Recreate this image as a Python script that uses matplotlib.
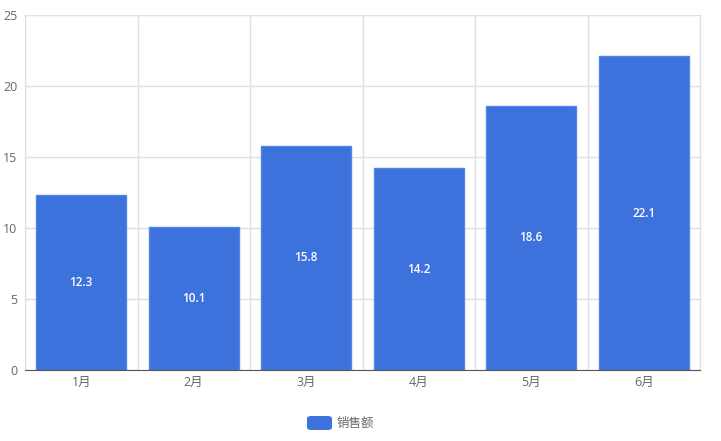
import matplotlib.pyplot as plt
from matplotlib.patches import FancyBboxPatch

plt.rcParams['font.family'] = ['Open Sans', 'Noto Sans CJK SC', 'DejaVu Sans']

# ---- data ----
months = ['1月', '2月', '3月', '4月', '5月', '6月']
sales = [12.3, 10.1, 15.8, 14.2, 18.6, 22.1]
series_name = '销售额'
y_ticks = [0, 5, 10, 15, 20, 25]

bar_color = '#3d71db'
edge_color = '#5385e8'
grid_color = '#e0e0e4'
text_color = '#666666'

fig = plt.figure(figsize=(7.21, 4.41), dpi=100)
ax = fig.add_axes([25 / 721, 71 / 441, 675 / 721, 355 / 441])

x = list(range(len(months)))
bars = ax.bar(x, sales, width=0.8, color=bar_color, edgecolor=edge_color,
              linewidth=1, zorder=3)

# value labels in middle of each bar
for rect, v in zip(bars, sales):
    ax.text(rect.get_x() + rect.get_width() / 2, v / 2, f'{v}',
            ha='center', va='center', color='white', fontsize=8.5,
            fontweight='semibold', zorder=4)

ax.set_xlim(-0.5, len(months) - 0.5)
ax.set_ylim(0, 25)
ax.set_yticks(y_ticks)
ax.set_xticks(x)
ax.set_xticklabels(months)

# vertical grid at category boundaries
ax.set_xticks([i - 0.5 for i in range(len(months) + 1)], minor=True)
ax.grid(axis='x', which='minor', color=grid_color, linewidth=1, zorder=0)
ax.grid(axis='y', which='major', color=grid_color, linewidth=1, zorder=0)

ax.tick_params(axis='both', which='both', length=0, colors=text_color,
               labelsize=9)
ax.tick_params(axis='x', pad=4)
ax.tick_params(axis='y', pad=5.5)

for side in ['top', 'right', 'left']:
    ax.spines[side].set_color(grid_color)
ax.spines['bottom'].set_color('#555555')
ax.spines['bottom'].set_zorder(5)

# legend (rounded swatch + label)
fig.patches.append(FancyBboxPatch((307 / 721, 11 / 441), 25 / 721, 14 / 441,
                                  boxstyle='round,pad=0,rounding_size=0.006',
                                  transform=fig.transFigure,
                                  facecolor=bar_color, edgecolor='none'))
fig.text(337 / 721, 18 / 441, series_name, ha='left', va='center',
         color=text_color, fontsize=9, family='Noto Sans CJK SC')

fig.savefig('out.png', dpi=100)
